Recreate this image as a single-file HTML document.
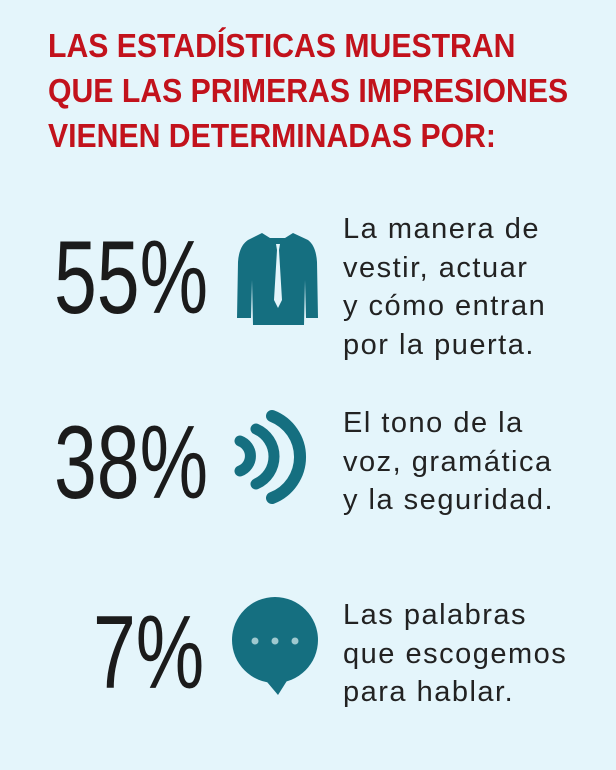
<!DOCTYPE html>
<html><head><meta charset="utf-8"><style>
body{margin:0;width:616px;height:770px;background:#e4f5fb;overflow:hidden;position:relative;font-family:"Liberation Sans",sans-serif}
.t{position:absolute;left:48px;color:#c2121c;font-family:"Liberation Sans Narrow","Liberation Sans",sans-serif;font-weight:bold;font-size:33px;white-space:nowrap;transform-origin:0 0;transform:scaleX(0.915)}
.n{position:absolute;color:#1b1b1b;font-family:"Liberation Sans Narrow","Liberation Sans",sans-serif;font-size:104px;line-height:1;white-space:nowrap;transform-origin:0 0;transform:scaleX(0.74)}
.d{position:absolute;left:343px;color:#222;font-size:29px;line-height:38.5px;letter-spacing:1.5px}
</style></head><body>
<div class="t" style="top:27px">LAS ESTADÍSTICAS MUESTRAN</div>
<div class="t" style="top:72px">QUE LAS PRIMERAS IMPRESIONES</div>
<div class="t" style="top:117px">VIENEN DETERMINADAS POR:</div>

<div class="n" style="left:54px;top:226px">55%</div>
<div class="n" style="left:54px;top:411px">38%</div>
<div class="n" style="left:93px;top:601px">7%</div>

<div class="d" style="top:210px">La manera de<br>vestir, actuar<br>y cómo entran<br>por la puerta.</div>
<div class="d" style="top:404px">El tono de la<br>voz, gramática<br>y la seguridad.</div>
<div class="d" style="top:596px">Las palabras<br>que escogemos<br>para hablar.</div>

<svg style="position:absolute;left:0;top:0" width="616" height="770">
<g fill="#156f80">
<path d="M262 233 L270 238 L285 238 L293 233 L308 240 Q316 246 317 262 L318 318 L306 318 L305 280 L304 325 L253 325 L252 280 L251 318 L237 318 L238 262 Q239 246 248 240 Z"/>
</g>
<path d="M276 244 L280 244 L279 250 L282 300 L278 308 L274 300 L277 250 Z" fill="#e4f5fb"/>
<g fill="none" stroke="#156f80" stroke-linecap="round">
<path d="M240 441 A16 16 0 0 1 240 471" stroke-width="11"/>
<path d="M256 429 A30 30 0 0 1 256 484" stroke-width="11"/>
<path d="M272 416 A44 44 0 0 1 272 498" stroke-width="12"/>
</g>
<g fill="#156f80">
<circle cx="275" cy="640" r="43"/>
<path d="M262 676 L278 695 L290 676 Z"/>
</g>
<g fill="#9fc9cf"><circle cx="255" cy="641" r="3.5"/><circle cx="275" cy="641" r="3.5"/><circle cx="295" cy="641" r="3.5"/></g>
</svg>
</body></html>
